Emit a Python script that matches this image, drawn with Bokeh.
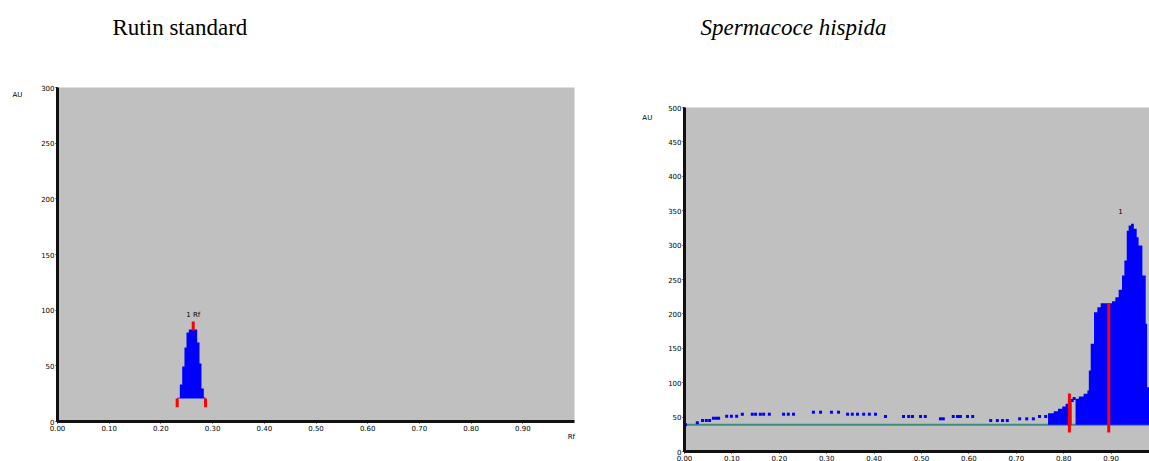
from bokeh.plotting import figure
from bokeh.layouts import row
from bokeh.models import Range1d, FixedTicker, Label, NumeralTickFormatter
from bokeh.embed import file_html
from bokeh.resources import INLINE

# ---------------- data ----------------
std_title = "Rutin standard"
smp_title = "Spermacoce hispida"

x_ticks = [0.0, 0.1, 0.2, 0.3, 0.4, 0.5, 0.6, 0.7, 0.8, 0.9]
std_y_ticks = [0, 50, 100, 150, 200, 250, 300]
smp_y_ticks = [0, 50, 100, 150, 200, 250, 300, 350, 400, 450, 500]
std_rf_span = [0.0, 1.0]
smp_rf_span = [0.0, 1.0]

# Rutin standard: integrated peak (Rf, AU)
std_rf = [0.2315, 0.2366, 0.2412, 0.2456, 0.2495, 0.2540, 0.2702, 0.2747, 0.2785, 0.2830, 0.2863]
std_au = [21.3, 33.2, 49.4, 66.5, 79.9, 82.6, 71.0, 52.1, 29.6, 21.6, 21.6]
std_base = 20.7
std_bounds = [0.2315, 0.2863]
std_bound_au = [12.9, 20.7]
std_peak_rf = [0.2625]
std_peak_au = [81.7, 89.8]
std_peak_label = "1 Rf"

# Spermacoce hispida: raw signal (dots) before the integrated zone
smp_dot_rf = [0.002, 0.027, 0.038, 0.046, 0.053, 0.061, 0.067, 0.072, 0.089, 0.099, 0.110,
              0.122, 0.143, 0.150, 0.160, 0.167, 0.179, 0.209, 0.219, 0.230, 0.272, 0.287,
              0.310, 0.325, 0.344, 0.354, 0.365, 0.378, 0.390, 0.403, 0.424, 0.462, 0.473,
              0.481, 0.498, 0.508, 0.540, 0.546, 0.567, 0.576, 0.582, 0.597, 0.608, 0.646,
              0.660, 0.671, 0.681, 0.707, 0.722, 0.736, 0.749, 0.762, 0.818, 0.822]
smp_dot_au = [38.8, 41.7, 45.0, 45.0, 45.0, 48.4, 48.4, 48.4, 51.3, 51.3, 51.3,
              54.2, 54.2, 54.2, 54.2, 54.2, 54.2, 54.2, 54.2, 54.2, 57.1, 57.1,
              57.1, 57.1, 54.2, 54.2, 54.2, 54.2, 54.2, 54.2, 50.9, 50.9, 50.9,
              50.9, 50.9, 50.9, 47.5, 47.5, 50.9, 50.9, 50.9, 50.9, 50.9, 45.0,
              45.0, 45.0, 45.0, 47.5, 47.5, 47.5, 50.9, 50.9, 74.0, 77.0]
smp_base = 38.8
# integrated peak 1 (shoulder start)
pk1_rf = [0.767, 0.779, 0.788, 0.797, 0.804, 0.811, 0.8165]
pk1_au = [55.7, 58.6, 62.0, 65.4, 69.3, 71.7, 71.7]
# integrated peak 2 (main)
pk2_rf = [0.825, 0.832, 0.842, 0.850, 0.853, 0.857, 0.864, 0.871, 0.878, 0.902, 0.909,
          0.916, 0.923, 0.928, 0.933, 0.937, 0.942, 0.948, 0.954, 0.958, 0.966, 0.973,
          0.976, 0.980, 0.984]
pk2_au = [76.6, 80.0, 83.9, 88.7, 117.7, 156.5, 202.5, 209.8, 215.6, 218.5, 224.3,
          235.0, 255.8, 277.6, 321.0, 328.5, 331.0, 323.7, 311.5, 299.4, 255.8, 185.6,
          93.5, 49.9, 40.0]
smp_marks_rf = [0.812, 0.895]
smp_marks_top = [84.3, 215.6]
smp_marks_bottom = [27.6, 27.6]
smp_peak_label_rf = 0.920
smp_peak_label_au = 350
smp_peak_label = "1"

PLOT_BG = "#C0C0C0"
BLUE = "#0000FF"
RED = "#FF0000"
TEAL = "#3F8C80"
TICK_FONT = "DejaVu Sans"
TITLE_FONT = "Liberation Serif"

FIG_H = 461
STD_W, SMP_W = 600, 549
# pixel layout of each chart area inside its figure (frames span the whole figure)
STD_ZERO_PX, STD_TOP_PX = 421, 87      # rows of AU 0 and AU 300
SMP_ZERO_PX, SMP_TOP_PX = 451, 107     # rows of AU 0 and AU 500
STD_X0_PX, STD_X1_PX = 57, 574         # columns of Rf 0 and Rf 1
SMP_X0_PX, SMP_X1_PX = 84, 558         # columns of Rf 0 and Rf 1 (figure starts at 600)


def y_range_for(zero_px, top_px, top_val):
    k = (zero_px - top_px) / top_val          # px per AU
    return Range1d(-(FIG_H - zero_px) / k, top_val + top_px / k)


def x_range_for(x0_px, x1_px, width):
    k = x1_px - x0_px                         # px per Rf unit
    return Range1d(-x0_px / k, (width - x0_px) / k)


def style(p, yticks, x_end):
    p.background_fill_color = "white"
    p.border_fill_color = "white"
    p.outline_line_color = None
    p.xgrid.visible = False
    p.ygrid.visible = False
    p.xaxis.ticker = FixedTicker(ticks=x_ticks)
    p.xaxis.formatter = NumeralTickFormatter(format="0.00")
    p.xaxis.fixed_location = 0
    p.xaxis.bounds = (0, x_end)
    p.yaxis.ticker = FixedTicker(ticks=yticks)
    p.yaxis.fixed_location = 0
    p.yaxis.bounds = (yticks[0], yticks[-1])
    for ax in (p.xaxis[0], p.yaxis[0]):
        ax.axis_line_width = 3
        ax.axis_line_color = "#111111"
        ax.major_tick_in = 0
        ax.major_tick_out = 2
        ax.major_tick_line_color = "#111111"
        ax.minor_tick_line_color = None
        ax.major_label_text_font = TICK_FONT
        ax.major_label_text_font_size = "7px"
        ax.major_label_text_color = "black"
        ax.major_label_standoff = 1


def small_label(p, x, y, text, align="center"):
    p.add_layout(Label(x=x, y=y, text=text, text_font=TICK_FONT, text_font_size="7px",
                       text_align=align, text_baseline="middle", text_color="black"))


def title_label(p, x, y, text, style_):
    p.add_layout(Label(x=x, y=y, text=text, text_font=TITLE_FONT, text_font_size="23px",
                       text_font_style=style_, text_align="left", text_baseline="middle",
                       text_color="black"))


# ---------------- left: Rutin standard ----------------
p1 = figure(width=STD_W, height=FIG_H, output_backend="svg", toolbar_location=None,
            x_range=x_range_for(STD_X0_PX, STD_X1_PX, STD_W),
            y_range=y_range_for(STD_ZERO_PX, STD_TOP_PX, std_y_ticks[-1]),
            min_border=0)
style(p1, std_y_ticks, std_rf_span[1])
p1.quad(left=std_rf_span[0], right=std_rf_span[1], bottom=std_y_ticks[0], top=std_y_ticks[-1],
        fill_color=PLOT_BG, line_color=None)
p1.varea_step(x=std_rf, y1=[std_base] * len(std_rf), y2=std_au, step_mode="after",
              fill_color=BLUE)
p1.segment(x0=std_bounds, x1=std_bounds, y0=[std_bound_au[0]] * 2, y1=[std_bound_au[1]] * 2,
           line_color=RED, line_width=3)
p1.segment(x0=std_peak_rf, x1=std_peak_rf, y0=[std_peak_au[0]], y1=[std_peak_au[1]],
           line_color=RED, line_width=3)
small_label(p1, std_peak_rf[0], 96, std_peak_label)
title_label(p1, 0.1064, 354, std_title, "normal")
small_label(p1, -0.068, 293, "AU", "right")
small_label(p1, 0.994, -13.5, "Rf")

# ---------------- right: Spermacoce hispida ----------------
p2 = figure(width=SMP_W, height=FIG_H, output_backend="svg", toolbar_location=None,
            x_range=x_range_for(SMP_X0_PX, SMP_X1_PX, SMP_W),
            y_range=y_range_for(SMP_ZERO_PX, SMP_TOP_PX, smp_y_ticks[-1]),
            min_border=0)
style(p2, smp_y_ticks, smp_rf_span[1])
p2.quad(left=smp_rf_span[0], right=smp_rf_span[1], bottom=smp_y_ticks[0], top=smp_y_ticks[-1],
        fill_color=PLOT_BG, line_color=None)
p2.line(x=[0.0, 0.984], y=[smp_base, smp_base], line_color=TEAL, line_width=2)
p2.varea_step(x=pk1_rf, y1=[smp_base] * len(pk1_rf), y2=pk1_au, step_mode="after",
              fill_color=BLUE)
p2.varea_step(x=pk2_rf, y1=[smp_base] * len(pk2_rf), y2=pk2_au, step_mode="after",
              fill_color=BLUE)
p2.scatter(x=smp_dot_rf, y=smp_dot_au, marker="square", size=3,
           fill_color=BLUE, line_color=None)
p2.segment(x0=smp_marks_rf, x1=smp_marks_rf, y0=smp_marks_bottom, y1=smp_marks_top,
           line_color=RED, line_width=3)
small_label(p2, smp_peak_label_rf, smp_peak_label_au, smp_peak_label)
title_label(p2, 0.0338, 616, smp_title, "italic")
small_label(p2, -0.068, 485, "AU", "right")

layout = row(p1, p2)
open("out.html", "w").write(file_html(layout, INLINE))
